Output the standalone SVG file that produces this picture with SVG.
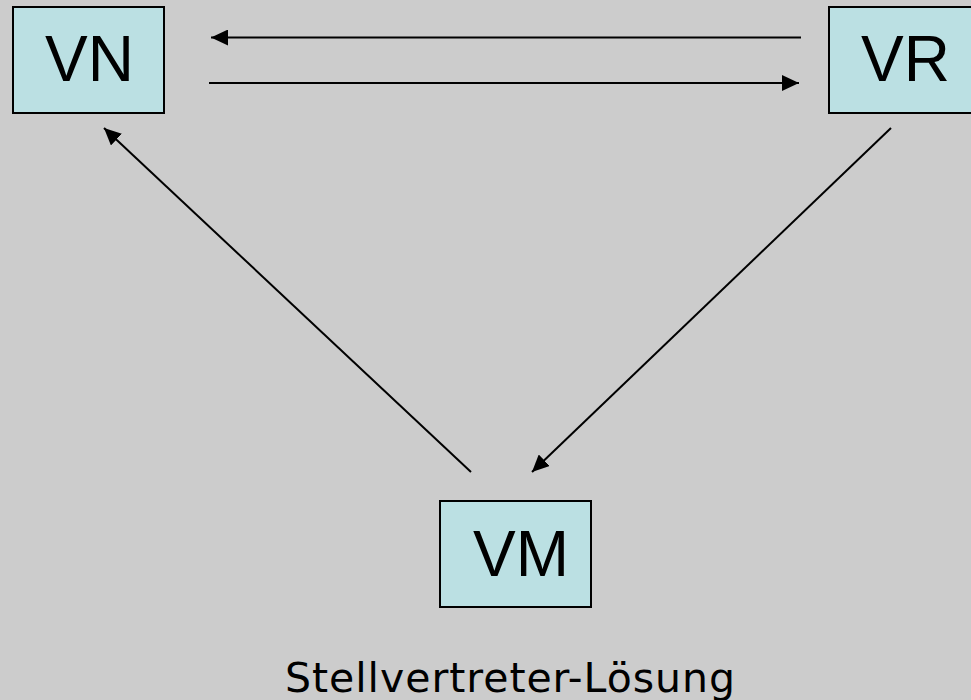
<svg xmlns="http://www.w3.org/2000/svg" width="971" height="700" viewBox="0 0 971 700">
  <style>
    .box { fill: #bbe0e3; stroke: #000; stroke-width: 2; }
    .lbl { font-family: "Liberation Sans", Arial, sans-serif; font-size: 64px; fill: #000; }
    .edge { stroke: #000; stroke-width: 2; fill: none; }
    .cap { font-family: "DejaVu Sans", Verdana, sans-serif; font-size: 41px; fill: #000; }
  </style>
  <defs>
    <marker id="ah" markerUnits="userSpaceOnUse" markerWidth="18" markerHeight="16" viewBox="0 0 18 16" refX="17" refY="8" orient="auto">
      <path d="M0,0 L17,8 L0,16 z" fill="#000"/>
    </marker>
  </defs>
  <rect x="0" y="0" width="971" height="700" fill="#cccccc"/>
  <g id="edges">
    <line class="edge" x1="801" y1="37.5" x2="211" y2="37.5" marker-end="url(#ah)"/>
    <line class="edge" x1="209" y1="83" x2="799" y2="83" marker-end="url(#ah)"/>
    <line class="edge" x1="471" y1="472" x2="104" y2="128" marker-end="url(#ah)"/>
    <line class="edge" x1="891" y1="128" x2="532" y2="472" marker-end="url(#ah)"/>
  </g>
  <g id="VN">
    <rect class="box" x="13" y="7" width="151" height="106"/>
    <text class="lbl" x="45" y="81">VN</text>
  </g>
  <g id="VR">
    <rect class="box" x="829" y="7" width="151" height="106"/>
    <text class="lbl" x="861" y="81">VR</text>
  </g>
  <g id="VM">
    <rect class="box" x="440" y="501" width="151" height="106"/>
    <text class="lbl" x="473" y="576">VM</text>
  </g>
  <text class="cap" x="285" y="692" textLength="450" lengthAdjust="spacing">Stellvertreter-Lösung</text>
</svg>
